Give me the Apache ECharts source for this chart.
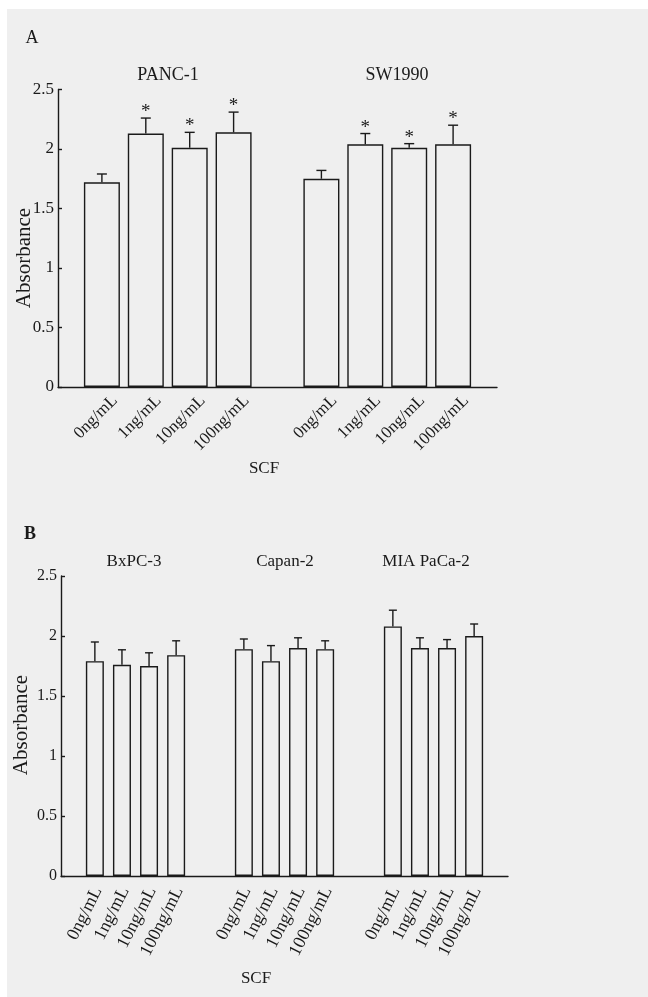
<!DOCTYPE html>
<html><head><meta charset="utf-8">
<script src="https://cdn.jsdelivr.net/npm/echarts@6/dist/echarts.min.js"></script>
<style>html,body{margin:0;padding:0;background:#fff}#c{width:648px;height:997px}</style>
</head><body><div id="c"></div>
<script>
// ---- data ----
const doses = ['0ng/mL', '1ng/mL', '10ng/mL', '100ng/mL'];
const cellLinesA = ['PANC-1', 'SW1990'];
const meansA = [[1.72, 2.13, 2.01, 2.14], [1.75, 2.04, 2.01, 2.04]];
const errA   = [[0.07, 0.13, 0.13, 0.17], [0.07, 0.09, 0.035, 0.16]];
const sigA   = [[0, 1, 1, 1], [0, 1, 1, 1]];
const cellLinesB = ['BxPC-3', 'Capan-2', 'MIA PaCa-2'];
const meansB = [[1.79, 1.76, 1.75, 1.84], [1.89, 1.79, 1.90, 1.89], [2.08, 1.90, 1.90, 2.00]];
const errB   = [[0.16, 0.125, 0.11, 0.12], [0.085, 0.13, 0.085, 0.07], [0.135, 0.085, 0.07, 0.10]];
const sigB   = [[0, 0, 0, 0], [0, 0, 0, 0], [0, 0, 0, 0]];
const yMin = 0, yMax = 2.5, yStep = 0.5;
const axisTitleY = 'Absorbance';
const axisTitleX = 'SCF';

const FONT = '"Liberation Serif", "Times New Roman", serif';
const INK = '#1a1a1a';

// build category slots (spacers between groups)
function buildCats(nGroups, start, groupStride, doseStride, total) {
  const cats = [];
  for (let i = 0; i < total; i++) cats.push('slot' + i);
  const idx = [];
  for (let g = 0; g < nGroups; g++) {
    idx.push([]);
    for (let j = 0; j < doses.length; j++) {
      const k = start + g * groupStride + j * doseStride;
      cats[k] = doses[j] + '#' + g;
      idx[g].push(k);
    }
  }
  return { cats, idx };
}
const layA = buildCats(2, 1, 5, 1, 11);
const layB = buildCats(3, 2, 11, 2, 33);

function barData(lay, means) {
  const d = lay.cats.map(() => '-');
  means.forEach((grp, g) => grp.forEach((v, j) => { d[lay.idx[g][j]] = v; }));
  return d;
}
function errData(lay, means, errs, sigs) {
  const out = [];
  means.forEach((grp, g) => grp.forEach((v, j) => {
    out.push([lay.idx[g][j], v, errs[g][j], sigs[g][j], j]);
  }));
  return out;
}

function makeRender(o) {
  return function (params, api) {
    const x = api.value(0), m = api.value(1), e = api.value(2), s = api.value(3), d = api.value(4);
    const p0 = api.coord([x, m]);
    const p1 = api.coord([x, m + e]);
    const pb = api.coord([x, 0]);
    const ch = [
      { type: 'line', shape: { x1: p0[0], y1: p0[1], x2: p1[0], y2: p1[1] }, style: { stroke: INK, lineWidth: 1.4 } },
      { type: 'line', shape: { x1: p1[0] - o.cap, y1: p1[1], x2: p1[0] + o.cap, y2: p1[1] }, style: { stroke: INK, lineWidth: 1.4 } },
      { type: 'text', x: pb[0] + o.lx, y: pb[1] + o.ly, rotation: o.rot * Math.PI / 180,
        style: { text: doses[d], align: 'right', verticalAlign: 'middle', font: o.lfont + 'px ' + FONT, fill: INK } }
    ];
    if (s) ch.push({ type: 'text', x: p1[0], y: p1[1] - 6,
      style: { text: '*', align: 'center', verticalAlign: 'middle', font: '19px ' + FONT, fill: INK } });
    return { type: 'group', children: ch };
  };
}

const yAxisBase = (fs) => ({
  type: 'value', min: yMin, max: yMax, interval: yStep,
  axisLine: { show: true, lineStyle: { color: INK, width: 1.4 } },
  axisTick: { show: true, inside: true, length: 4, lineStyle: { color: INK, width: 1.4 } },
  axisLabel: { color: INK, fontFamily: FONT, fontSize: fs, margin: 4 },
  splitLine: { show: false }
});
const xAxisBase = (lay, gap, idx) => ({
  type: 'category', gridIndex: idx, data: lay.cats, boundaryGap: gap,
  axisLine: { show: true, lineStyle: { color: INK, width: 1.4 } },
  axisTick: { show: false }, axisLabel: { show: false }, splitLine: { show: false }
});

const txt = (text, x, y, size, extra) => Object.assign({
  type: 'text', x, y, style: { text, font: size + 'px ' + FONT, fill: INK, align: 'center', verticalAlign: 'middle' }
}, extra || {});

const option = {
  animation: false,
  backgroundColor: '#ffffff',
  grid: [
    { left: 58, top: 89.5, width: 439, height: 297.5 },
    { left: 61, top: 576, width: 447, height: 300 }
  ],
  xAxis: [xAxisBase(layA, false, 0), xAxisBase(layB, true, 1)],
  yAxis: [Object.assign(yAxisBase(17), { gridIndex: 0 }), Object.assign(yAxisBase(16), { gridIndex: 1 })],
  series: [
    { type: 'bar', xAxisIndex: 0, yAxisIndex: 0, barWidth: 36, data: barData(layA, meansA),
      itemStyle: { color: 'rgba(0,0,0,0)', borderColor: INK, borderWidth: 1.4 } },
    { type: 'custom', xAxisIndex: 0, yAxisIndex: 0, clip: false, data: errData(layA, meansA, errA, sigA),
      renderItem: makeRender({ cap: 5, lx: 13, ly: 11, rot: 45, lfont: 17 }), z: 5 },
    { type: 'bar', xAxisIndex: 1, yAxisIndex: 1, barWidth: 18, data: barData(layB, meansB),
      itemStyle: { color: 'rgba(0,0,0,0)', borderColor: INK, borderWidth: 1.4 } },
    { type: 'custom', xAxisIndex: 1, yAxisIndex: 1, clip: false, data: errData(layB, meansB, errB, sigB),
      renderItem: makeRender({ cap: 4, lx: 3, ly: 12, rot: 63, lfont: 18 }), z: 5 }
  ],
  graphic: [
    { type: 'rect', shape: { x: 7, y: 9, width: 641, height: 988 }, style: { fill: '#efefef' }, z: -10, silent: true },
    txt('A', 32, 38, 18),
    txt(cellLinesA[0], 168, 75, 18),
    txt(cellLinesA[1], 397, 75, 18),
    txt(axisTitleY, 24, 258, 21, { rotation: Math.PI / 2 }),
    txt(axisTitleX, 264, 469, 17),
    { type: 'text', x: 30, y: 534, style: { text: 'B', font: 'bold 18px ' + FONT, fill: INK, align: 'center', verticalAlign: 'middle' } },
    txt(cellLinesB[0], 134, 562, 17),
    txt(cellLinesB[1], 285, 562, 17),
    txt(cellLinesB[2], 426, 562, 17),
    txt(axisTitleY, 21, 725, 21, { rotation: Math.PI / 2 }),
    txt(axisTitleX, 256, 979, 17)
  ]
};
const chart = echarts.init(document.getElementById('c'), null, { renderer: 'canvas' });
chart.setOption(option);
</script></body></html>
